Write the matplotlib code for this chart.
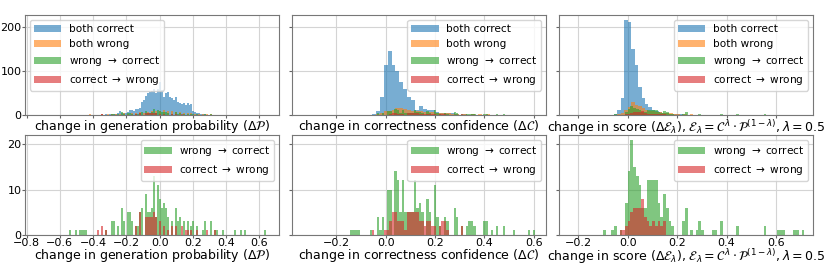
import numpy as np
import matplotlib
matplotlib.use("Agg")
import matplotlib.pyplot as plt

# ---------------- data (bin centres and counts) ----------------
# column 1: change in generation probability (bin width 0.012)
p_bc_x = [-0.42, -0.384, -0.348, -0.324, -0.3, -0.288, -0.276, -0.264, -0.252, -0.24, -0.228, -0.216, -0.204, -0.192,
          -0.18, -0.168, -0.156, -0.144, -0.132, -0.12, -0.108, -0.096, -0.084, -0.072, -0.06, -0.048,
          -0.036, -0.024, -0.012, 0.0, 0.012, 0.024, 0.036, 0.048, 0.06, 0.072, 0.084, 0.096, 0.108,
          0.12, 0.132, 0.144, 0.156, 0.168, 0.18, 0.192, 0.204, 0.216, 0.228, 0.24, 0.252, 0.264,
          0.276, 0.3, 0.336, 0.36]
p_bc_n = [1, 1, 2, 2, 2, 3, 2, 3, 4, 8, 5, 4, 5, 6,
          11, 11, 10, 13, 13, 15, 30, 34, 43, 49, 53, 55,
          60, 49, 60, 76, 57, 42, 49, 53, 42, 38, 34, 40, 30,
          27, 25, 27, 23, 28, 22, 26, 8, 6, 5, 4, 3, 2,
          2, 1, 1, 1]
p_bw_x = [-0.744, -0.66, -0.6, -0.564, -0.54, -0.492, -0.444, -0.42, -0.384, -0.348, -0.312, -0.288, -0.264,
          -0.24, -0.216, -0.192, -0.168, -0.144, -0.12, -0.096, -0.072, -0.048, -0.024, 0.0, 0.024,
          0.048, 0.072, 0.096, 0.12, 0.144, 0.168, 0.192, 0.216, 0.24, 0.264, 0.288, 0.312, 0.36,
          0.42, 0.48, 0.54]
p_bw_n = [1, 1, 1, 1, 1, 1, 1, 2, 1, 2, 2, 2, 3,
          3, 4, 3, 5, 4, 6, 5, 7, 8, 9, 10, 11,
          8, 9, 7, 6, 5, 5, 4, 3, 3, 2, 2, 2, 1,
          1, 1, 1]
p_wc_x = [-0.54, -0.504, -0.48, -0.468, -0.456, -0.444, -0.324, -0.288, -0.276, -0.252, -0.228, -0.216,
          -0.192, -0.18, -0.168, -0.144, -0.132, -0.12, -0.108, -0.084, -0.072, -0.06, -0.048, -0.036,
          -0.024, -0.012, 0.0, 0.012, 0.024, 0.036, 0.048, 0.072, 0.096, 0.108, 0.12, 0.144, 0.168,
          0.192, 0.204, 0.228, 0.264, 0.276, 0.312, 0.336, 0.348, 0.384, 0.456, 0.492, 0.516, 0.636]
p_wc_n = [1, 1, 1, 1, 1, 1, 1, 3, 3, 2, 6, 3,
          5, 5, 3, 2, 2, 5, 6, 9, 5, 5, 6, 13,
          4, 11, 8, 6, 7, 6, 4, 3, 6, 3, 4, 3, 3,
          2, 3, 2, 1, 3, 3, 1, 1, 1, 1, 1, 1, 1]
p_cw_x = [-0.372, -0.348, -0.324, -0.144, -0.12, -0.084, -0.072, -0.06, -0.048, -0.036, -0.024, 0.0,
          0.024, 0.048, 0.072, 0.096, 0.132, 0.156, 0.168, 0.192, 0.228, 0.288, 0.336]
p_cw_n = [1, 2, 1, 2, 5, 4, 4, 4, 4, 5, 4, 3,
          2, 1, 2, 2, 2, 1, 1, 1, 1, 1, 1]

# column 2: change in correctness confidence (bin width 0.016 / 0.01)
c_bc_x = [-0.048, -0.032, -0.016, 0.0, 0.016, 0.032, 0.048, 0.064, 0.08, 0.096, 0.112, 0.128, 0.144,
          0.16, 0.176, 0.192, 0.208, 0.224, 0.24, 0.256, 0.272, 0.288, 0.32, 0.352, 0.384, 0.416,
          0.464, 0.512]
c_bc_n = [2, 10, 40, 114, 145, 114, 100, 76, 58, 42, 34, 12, 20,
          13, 12, 11, 6, 5, 5, 4, 4, 3, 2, 2, 1, 1,
          1, 1]
c_bw_x = [-0.336, -0.288, -0.24, -0.16, -0.096, -0.064, -0.032, -0.016, 0.0, 0.016, 0.032, 0.048, 0.064,
          0.08, 0.096, 0.112, 0.128, 0.144, 0.16, 0.176, 0.192, 0.208, 0.224, 0.24, 0.256, 0.272,
          0.288, 0.32, 0.352, 0.384, 0.416, 0.448, 0.48, 0.512, 0.56]
c_bw_n = [1, 1, 1, 1, 1, 1, 3, 5, 8, 10, 12, 15, 17,
          14, 12, 10, 9, 8, 7, 6, 6, 5, 5, 4, 4, 3,
          3, 3, 2, 2, 2, 1, 1, 1, 1]
c_wc_x = [-0.14, -0.13, -0.12, -0.11, -0.06, -0.03, -0.02, -0.01, 0.01, 0.02, 0.04, 0.05, 0.06, 0.07,
          0.08, 0.09, 0.1, 0.11, 0.12, 0.13, 0.14, 0.15, 0.17, 0.18, 0.2, 0.21, 0.22, 0.24, 0.25,
          0.28, 0.29, 0.31, 0.33, 0.34, 0.35, 0.36, 0.4, 0.41, 0.43, 0.45, 0.48, 0.52, 0.58, 0.6]
c_wc_n = [1, 1, 1, 1, 1, 4, 1, 4, 10, 10, 14, 12, 5, 12,
          5, 5, 5, 5, 12, 6, 7, 5, 8, 5, 11, 4, 2, 4, 3,
          6, 4, 2, 2, 3, 3, 2, 3, 3, 1, 2, 2, 1, 1, 1]
c_cw_x = [-0.05, 0.0, 0.01, 0.02, 0.03, 0.04, 0.05, 0.06, 0.07, 0.08, 0.09, 0.1, 0.11, 0.12, 0.13,
          0.14, 0.15, 0.16, 0.17, 0.18, 0.19, 0.2, 0.22, 0.23, 0.24, 0.25, 0.31]
c_cw_n = [1, 1, 1, 3, 5, 5, 3, 3, 3, 1, 5, 5, 5, 5, 5,
          3, 3, 2, 3, 3, 2, 2, 2, 3, 3, 1, 2]

# column 3: change in score (bin width 0.014 / 0.011)
e_bc_x = [-0.049, -0.035, -0.021, -0.007, 0.007, 0.021, 0.035, 0.049, 0.063, 0.077, 0.091, 0.105,
          0.119, 0.133, 0.147, 0.161, 0.175, 0.189, 0.203, 0.217, 0.245, 0.273, 0.301, 0.343,
          0.399, 0.455]
e_bc_n = [2, 11, 38, 216, 212, 150, 114, 64, 38, 26, 19, 11,
          8, 6, 5, 4, 3, 3, 2, 2, 1, 1, 1, 1,
          1, 1]
e_bw_x = [-0.077, -0.035, -0.021, -0.007, 0.007, 0.021, 0.035, 0.049, 0.063, 0.077, 0.091, 0.105,
          0.119, 0.133, 0.147, 0.161, 0.175, 0.189, 0.203, 0.231, 0.259, 0.287, 0.315, 0.371,
          0.427, 0.497]
e_bw_n = [1, 2, 4, 12, 19, 30, 23, 20, 15, 12, 10, 8,
          7, 6, 5, 4, 4, 3, 3, 2, 2, 1, 1, 1,
          1, 1]
e_wc_x = [-0.0935, -0.0605, -0.0495, -0.0275, -0.0055, 0.0055, 0.0165, 0.0275, 0.0385, 0.0495,
          0.0605, 0.0715, 0.0825, 0.0935, 0.1045, 0.1155, 0.1265, 0.1375, 0.1485, 0.1595, 0.1705,
          0.1815, 0.2255, 0.2365, 0.2585, 0.2805, 0.2915, 0.3025, 0.3465, 0.3575, 0.3795, 0.4455,
          0.5555, 0.6105, 0.6215, 0.6325, 0.6765, 0.6875, 0.7095]
e_wc_n = [1, 1, 2, 1, 7, 14, 21, 15, 13, 11,
          6, 6, 12, 12, 12, 12, 7, 4, 9, 6, 3,
          2, 3, 6, 1, 1, 3, 1, 1, 1, 3, 2,
          2, 1, 1, 1, 1, 1, 1]
e_cw_x = [-0.0275, -0.0165, -0.0055, 0.0055, 0.0165, 0.0275, 0.0385, 0.0495, 0.0605, 0.0715,
          0.0825, 0.0935, 0.1045, 0.1155, 0.1265, 0.1375, 0.1485]
e_cw_n = [1, 1, 2, 3, 5, 6, 6, 6, 8, 4,
          3, 2, 3, 2, 3, 2, 3]

labels = ["both correct", "both wrong",
          r"wrong $\rightarrow$ correct", r"correct $\rightarrow$ wrong"]
xlabels = [r"change in generation probability ($\Delta\mathcal{P}$)",
           r"change in correctness confidence ($\Delta\mathcal{C}$)",
           r"change in score ($\Delta\mathcal{E}_\lambda$), "
           r"$\mathcal{E}_\lambda = \mathcal{C}^\lambda \cdot \mathcal{P}^{(1-\lambda)}, \lambda = 0.5$"]

# ---------------- plotting ----------------
colors = ["tab:blue", "tab:orange", "tab:green", "tab:red"]
ALPHA = 0.6

def edges(w, lo, hi):
    return (np.arange(int(np.floor(lo / w)) - 1, int(np.ceil(hi / w)) + 2) - 0.5) * w

def edges_aligned(w, lo, hi):
    return np.arange(int(np.floor(lo / w)) - 1, int(np.ceil(hi / w)) + 2) * w

cols = [
    dict(big=[(p_bc_x, p_bc_n), (p_bw_x, p_bw_n)], small=[(p_wc_x, p_wc_n), (p_cw_x, p_cw_n)],
         bbig=edges(0.012, -0.8, 0.7), bsmall=edges(0.012, -0.8, 0.7),
         xlim=(-0.81, 0.72), loc="upper left"),
    dict(big=[(c_bc_x, c_bc_n), (c_bw_x, c_bw_n)], small=[(c_wc_x, c_wc_n), (c_cw_x, c_cw_n)],
         bbig=edges(0.016, -0.4, 0.65), bsmall=edges(0.01, -0.4, 0.65),
         xlim=(-0.38, 0.65), loc="upper right"),
    dict(big=[(e_bc_x, e_bc_n), (e_bw_x, e_bw_n)], small=[(e_wc_x, e_wc_n), (e_cw_x, e_cw_n)],
         bbig=edges_aligned(0.014, -0.3, 0.75), bsmall=edges_aligned(0.011, -0.3, 0.75),
         xlim=(-0.28, 0.75), loc="upper right"),
]

plt.rcParams["font.family"] = ["DejaVu Sans"]
fig, axes = plt.subplots(2, 3, figsize=(8.3, 2.64), dpi=100, sharex="col", sharey="row")
fig.subplots_adjust(left=0.030, right=0.9795, top=0.943, bottom=0.11, wspace=0.049, hspace=0.2)

LEG = dict(fontsize=7.6, labelspacing=0.47, handlelength=2.6, borderpad=0.35,
           handletextpad=0.7, borderaxespad=0.5)
for j, c in enumerate(cols):
    top, bot = axes[0, j], axes[1, j]
    for k, (x, n) in enumerate(c["big"]):
        top.hist(x, bins=c["bbig"], weights=n, color=colors[k], alpha=ALPHA, label=labels[k])
    for k, (x, n) in enumerate(c["small"]):
        top.hist(x, bins=c["bsmall"], weights=n, color=colors[k + 2], alpha=ALPHA, label=labels[k + 2])
        bot.hist(x, bins=c["bsmall"], weights=n, color=colors[k + 2], alpha=ALPHA, label=labels[k + 2])
    top.legend(loc=c["loc"], **LEG)
    bot.legend(loc="upper right", **LEG)
    top.set_xlim(*c["xlim"])
    top.set_xlabel(xlabels[j], fontsize=9, labelpad=0)
    bot.set_xlabel(xlabels[j], fontsize=9, labelpad=-1)
    for ax in (top, bot):
        ax.grid(True, color="#d4d4d4", linewidth=0.8)
        ax.set_axisbelow(True)
        ax.tick_params(labelsize=8, length=2, color="#666666", pad=0.5)
        for s in ax.spines.values():
            s.set_color("#777777")

axes[0, 0].set_ylim(0, 227)
axes[0, 0].set_yticks([0, 100, 200])
axes[1, 0].set_ylim(0, 22)
axes[1, 0].set_yticks([0, 10, 20])
axes[0, 0].set_xticks([-0.8, -0.6, -0.4, -0.2, 0.0, 0.2, 0.4, 0.6])
axes[0, 1].set_xticks([-0.2, 0.0, 0.2, 0.4, 0.6])
axes[0, 2].set_xticks([-0.2, 0.0, 0.2, 0.4, 0.6])

fig.savefig("out.png", dpi=100)
